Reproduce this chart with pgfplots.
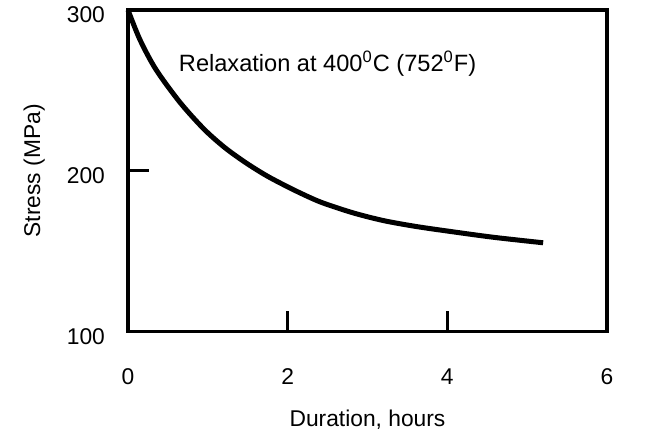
\documentclass[border=0pt]{standalone}
\usepackage{pgfplots}
\pgfplotsset{compat=1.18}
\usepackage{fontspec}
\setmainfont{Liberation Sans}
\newcommand{\lbl}{\fontsize{11.4}{13}\selectfont}
\begin{document}
\begin{tikzpicture}
\useasboundingbox (-64pt,-51.25pt) rectangle (259.5pt,165.75pt);
\begin{axis}[
  scale only axis,
  width=239.5pt, height=160.75pt,
  xmin=0, xmax=6, ymin=100, ymax=300,
  xtick={0,2,4,6}, ytick={100,200,300},
  tick pos=left, tick align=inside,
  major tick length=10.5pt,
  axis line style={line width=1.6pt},
  every tick/.style={line width=1.5pt, black},
  xticklabel={\lbl\pgfmathprintnumber[assume math mode=true]{\tick}},
  yticklabel={\lbl\pgfmathprintnumber[assume math mode=true]{\tick}},
  xticklabel style={anchor=center, yshift=-22.75pt},
  yticklabel style={anchor=east, xshift=-8pt, yshift=-2.5pt},
  xlabel={\lbl Duration, hours},
  ylabel={\lbl Stress (MPa)},
  every axis x label/.style={at={(axis description cs:0.5,-0.275)}, anchor=center},
  every axis y label/.style={at={(axis description cs:-0.196,0.5)}, anchor=center, rotate=90},
  clip=false,
]
\addplot[black, line width=2.5pt, smooth, line cap=butt, line join=round] coordinates {
  (0,300) (0.15,281.5) (0.35,263) (0.65,242.6) (0.95,226) (1.21,214.5)
  (1.475,205) (1.74,196.8) (2.0,190) (2.22,184.7) (2.44,180) (2.82,173.8)
  (3.2,169) (3.6,165.4) (4.0,162.5) (4.58,158.6) (5.2,155.2)
};
\node[anchor=west, font=\fontsize{11.8}{14}\selectfont] at (axis cs:0.55,266.4)
  {Relaxation at 400\textsuperscript{0}C (752\textsuperscript{0}F)};
\end{axis}
\end{tikzpicture}
\end{document}
